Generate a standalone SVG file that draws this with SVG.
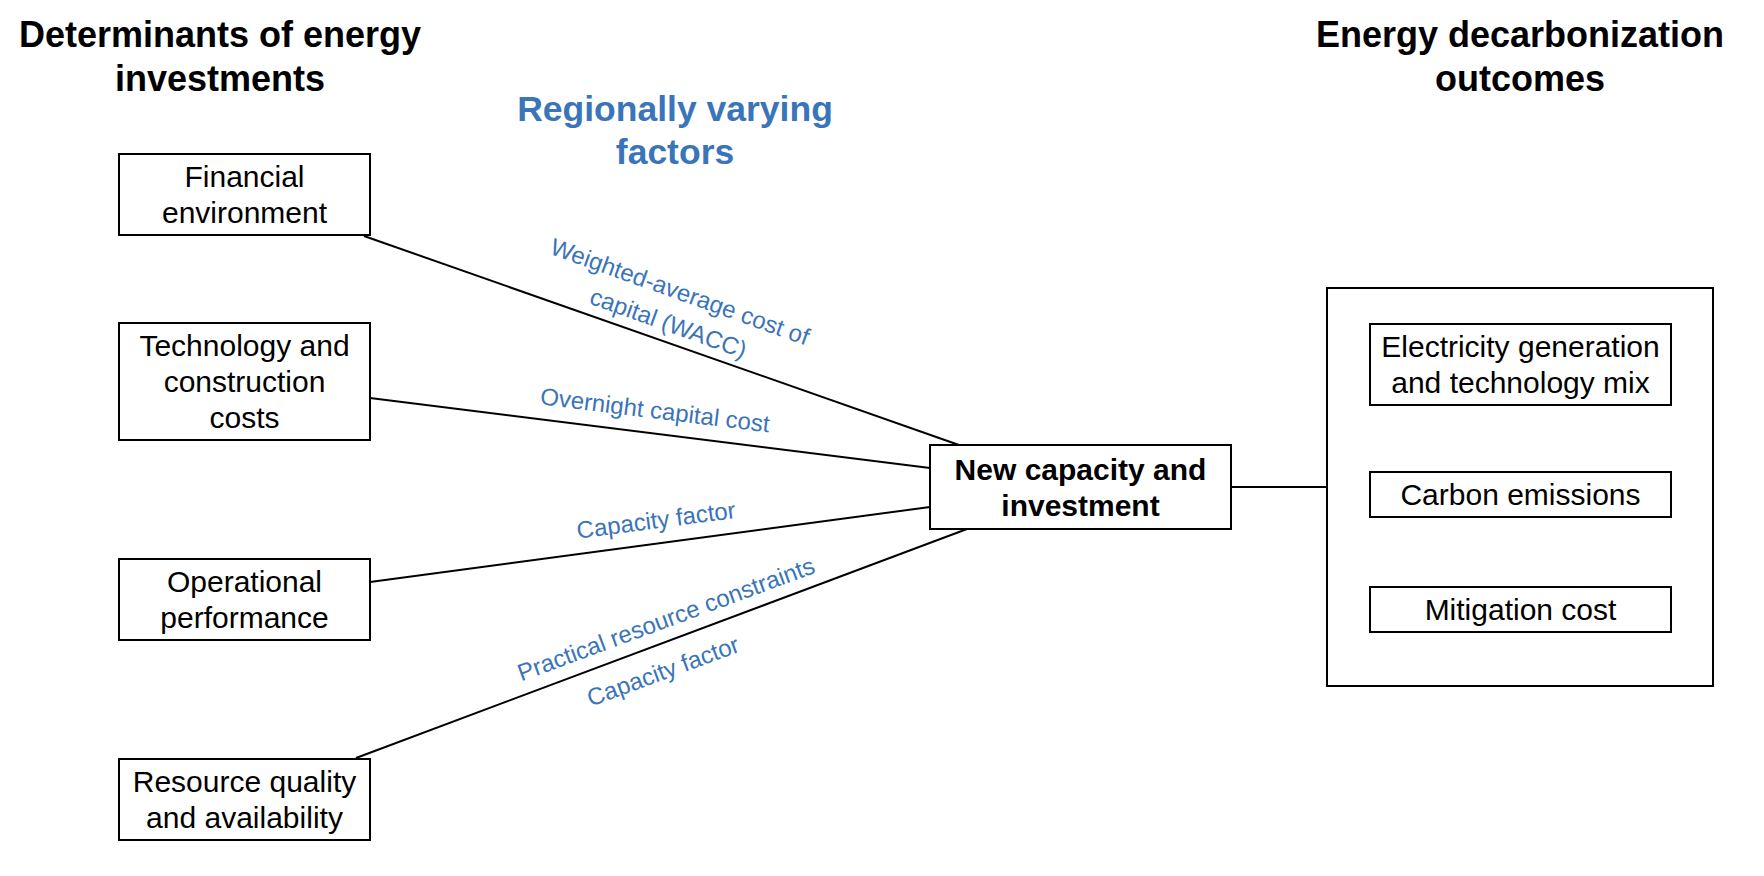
<svg xmlns="http://www.w3.org/2000/svg" width="1764" height="876" viewBox="0 0 1764 876">
<style>
.box{fill:#fff;stroke:#000;stroke-width:2}
.t{font-family:"Liberation Sans",Arial,sans-serif;font-size:30px;fill:#000;text-anchor:middle}
.b{font-weight:bold}
.h{font-family:"Liberation Sans",Arial,sans-serif;font-size:36px;font-weight:bold;text-anchor:middle;fill:#000}
.hb{fill:#3A74B9;font-size:35.5px}
.lbl{font-family:"Liberation Sans",Arial,sans-serif;font-size:24px;fill:#3A74B9;text-anchor:middle}
.ln{stroke:#000;stroke-width:2;fill:none}
</style>
<rect width="1764" height="876" fill="#fff"/>
<g id="titles">
<text class="h" x="220" y="47">Determinants of energy</text>
<text class="h" x="220" y="91">investments</text>
<text class="h hb" x="675" y="121">Regionally varying</text>
<text class="h hb" x="675" y="164">factors</text>
<text class="h" x="1520" y="47">Energy decarbonization</text>
<text class="h" x="1520" y="91">outcomes</text>
</g>
<g id="connectors">
<line class="ln" x1="364" y1="236" x2="959" y2="445"/>
<line class="ln" x1="370" y1="398" x2="930" y2="468"/>
<line class="ln" x1="370" y1="582" x2="930" y2="507"/>
<line class="ln" x1="356" y1="758" x2="967" y2="529"/>
<line class="ln" x1="1231" y1="487" x2="1327" y2="487"/>
<text class="lbl" transform="translate(680,291.5) rotate(19.7)" y="8.4">Weighted-average cost of</text>
<text class="lbl" transform="translate(668.5,323) rotate(19.7)" y="8.4">capital (WACC)</text>
<text class="lbl" transform="translate(655,410) rotate(7)" y="8.4">Overnight capital cost</text>
<text class="lbl" transform="translate(656,520) rotate(-7.5)" y="8.4">Capacity factor</text>
<text class="lbl" transform="translate(666,619) rotate(-20.3)" y="8.4">Practical resource constraints</text>
<text class="lbl" transform="translate(663,671) rotate(-20.3)" y="8.4">Capacity factor</text>
</g>
<g id="financial">
<rect class="box" x="119" y="154" width="251" height="81"/>
<text class="t" x="244.5" y="187">Financial</text>
<text class="t" x="244.5" y="223">environment</text>
</g>
<g id="technology">
<rect class="box" x="119" y="323" width="251" height="117"/>
<text class="t" x="244.5" y="356">Technology and</text>
<text class="t" x="244.5" y="392">construction</text>
<text class="t" x="244.5" y="428">costs</text>
</g>
<g id="operational">
<rect class="box" x="119" y="559" width="251" height="81"/>
<text class="t" x="244.5" y="592">Operational</text>
<text class="t" x="244.5" y="628">performance</text>
</g>
<g id="resource">
<rect class="box" x="119" y="759" width="251" height="81"/>
<text class="t" x="244.5" y="792">Resource quality</text>
<text class="t" x="244.5" y="828">and availability</text>
</g>
<g id="newcapacity">
<rect class="box" x="930" y="445" width="301" height="84"/>
<text class="t b" x="1080.5" y="480">New capacity and</text>
<text class="t b" x="1080.5" y="516">investment</text>
</g>
<g id="outcomes">
<rect class="box" x="1327" y="288" width="386" height="398"/>
</g>
<g id="electricity">
<rect class="box" x="1370" y="324" width="301" height="81"/>
<text class="t" x="1520.5" y="357">Electricity generation</text>
<text class="t" x="1520.5" y="393">and technology mix</text>
</g>
<g id="carbon">
<rect class="box" x="1370" y="472" width="301" height="45"/>
<text class="t" x="1520.5" y="505">Carbon emissions</text>
</g>
<g id="mitigation">
<rect class="box" x="1370" y="587" width="301" height="45"/>
<text class="t" x="1520.5" y="620">Mitigation cost</text>
</g>
</svg>
